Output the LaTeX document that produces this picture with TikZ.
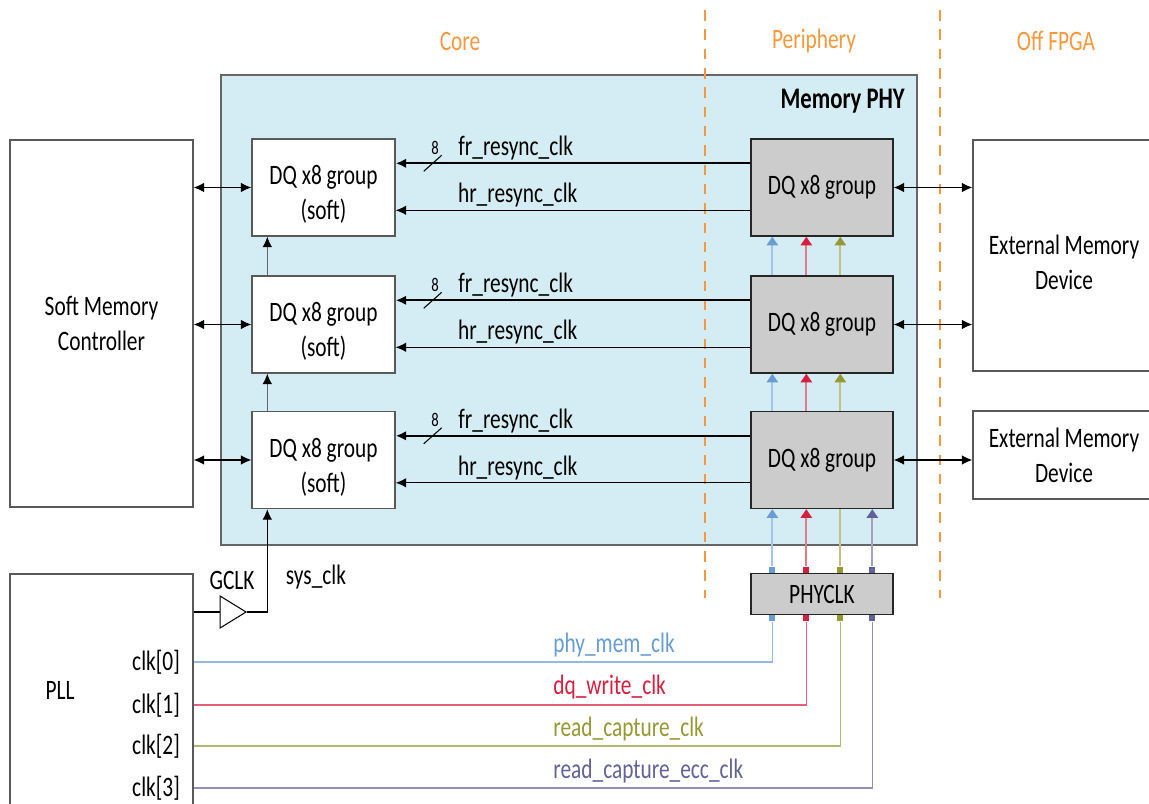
\documentclass[tikz,border=0pt]{standalone}
\usepackage{fontspec}
\setmainfont{Carlito}[FakeStretch=0.76]
\usetikzlibrary{shapes.geometric, arrows.meta, positioning, calc}

\definecolor{phyblue}{RGB}{212,236,243}
\definecolor{boxgray}{RGB}{204,204,204}
\definecolor{zoneorange}{RGB}{247,152,60}
\definecolor{clkblue}{RGB}{102,157,212}
\definecolor{clkred}{RGB}{214,30,62}
\definecolor{clkolive}{RGB}{150,152,52}
\definecolor{clkpurple}{RGB}{98,98,152}

\newcommand{\lbl}{\fontsize{16}{20}\selectfont}
\newcommand{\dnstrut}{\rule{0pt}{19pt}}

\begin{document}
\begin{tikzpicture}[
        x=0.02cm, y=-0.02cm,
        block/.style={rectangle, draw=black!65, line width=0.8pt, fill=white, align=center, font=\lbl},
        softdq/.style={block, minimum width=2.86cm, minimum height=1.94cm},
        harddq/.style={block, fill=boxgray, draw=black!85, minimum width=2.84cm, minimum height=1.94cm},
        arrow/.style={-{Latex[length=6pt,width=5.5pt,color=black]}, line width=0.6pt},
        bidir/.style={{Latex[length=6pt,width=5.5pt]}-{Latex[length=6pt,width=5.5pt]}, line width=0.6pt},
        zone/.style={zoneorange, dash pattern=on 6pt off 5pt, line width=1.1pt},
        clkpad/.style={rectangle, inner sep=0pt, minimum size=0.12cm, fill=#1},
        clktip/.style={-{Triangle[length=5pt,width=6.5pt,color=#1]}, draw=#1!60, line width=1pt},
        clkline/.style={draw=#1!70, line width=0.7pt}
    ]
    \useasboundingbox (0,0) rectangle (1149,804);

    % Memory PHY container
    \node[rectangle, draw=black!60, line width=0.8pt, fill=phyblue, minimum width=13.92cm, minimum height=9.4cm] (phy) at (569,310) {};
    \node[anchor=east, font=\fontsize{17}{20}\selectfont\bfseries] (phyname) at (911,101) {Memory PHY};

    % Zones
    \draw[zone] (705,10) -- (705,598);
    \draw[zone] (940,10) -- (940,598);
    \node[zoneorange, font=\lbl] (core) at (460,41) {Core};
    \node[zoneorange, font=\lbl] (periph) at (814,41) {Periphery};
    \node[zoneorange, font=\lbl] (offfpga) at (1056,41) {Off FPGA};

    % Controller and external devices
    \node[block, minimum width=3.66cm, minimum height=7.34cm] (ctrl) at (101.5,323.5) {Soft Memory\\Controller};
    \node[block, minimum width=3.64cm, minimum height=4.62cm] (ext1) at (1064,255.5) {\dnstrut External Memory\\Device};
    \node[block, minimum width=3.64cm, minimum height=1.76cm] (ext2) at (1064,455) {External Memory\\Device};

    % DQ groups
    \node[softdq] (soft1) at (323.5,187.5) {\dnstrut DQ x8 group\\(soft)};
    \node[softdq] (soft2) at (323.5,324.5) {\dnstrut DQ x8 group\\(soft)};
    \node[softdq] (soft3) at (323.5,460) {\dnstrut DQ x8 group\\(soft)};
    \node[harddq] (hard1) at (822,187.5) {DQ x8 group};
    \node[harddq] (hard2) at (822,324.5) {DQ x8 group};
    \node[harddq] (hard3) at (822,460) {DQ x8 group};
    \node[harddq, minimum height=0.82cm] (phyclk) at (822,594) {PHYCLK};

    % PLL
    \node[block, minimum width=3.66cm, minimum height=4.92cm] (pll) at (101.5,697) {};
    \node[font=\lbl] (pllname) at (60,690) {PLL};
    \node[anchor=east, font=\lbl] (clk0) at (186,662) {clk[0]};
    \node[anchor=east, font=\lbl] (clk1) at (186,705) {clk[1]};
    \node[anchor=east, font=\lbl] (clk2) at (186,746) {clk[2]};
    \node[anchor=east, font=\lbl] (clk3) at (186,788) {clk[3]};

    % GCLK buffer
    \node[draw, fill=white, isosceles triangle, isosceles triangle stretches, minimum width=0.64cm, minimum height=0.52cm, inner sep=0pt, line width=0.6pt] (buf) at (229,612) {};
    \node[font=\lbl] (gclk) at (232,580) {GCLK};
    \node[font=\lbl] (sysclk) at (316,577) {sys\_clk};

    % Bidirectional data
    \draw[bidir] (ctrl.east |- soft1.west) -- (soft1.west);
    \draw[bidir] (ctrl.east |- soft2.west) -- (soft2.west);
    \draw[bidir] (ctrl.east |- soft3.west) -- (soft3.west);
    \draw[bidir] (hard1.east) -- (ext1.west |- hard1.east);
    \draw[bidir] (hard2.east) -- (ext1.west |- hard2.east);
    \draw[bidir] (hard3.east) -- (ext2.west |- hard3.east);

    % Resync clocks
    \draw[arrow, line width=1.3pt] ($(hard1.north west)+(0,25)$) -- ($(soft1.north east)+(0,25)$);
    \draw[arrow] ($(hard1.north west)+(0,72)$) -- ($(soft1.north east)+(0,72)$);
    \draw[arrow, line width=1.3pt] ($(hard2.north west)+(0,25)$) -- ($(soft2.north east)+(0,25)$);
    \draw[arrow] ($(hard2.north west)+(0,72)$) -- ($(soft2.north east)+(0,72)$);
    \draw[arrow, line width=1.3pt] ($(hard3.north west)+(0,25)$) -- ($(soft3.north east)+(0,25)$);
    \draw[arrow] ($(hard3.north west)+(0,72)$) -- ($(soft3.north east)+(0,72)$);
    \node[font=\lbl] (fr1) at ($(soft1.north east)+(120,10)$) {fr\_resync\_clk};
    \node[font=\lbl] (hr1) at ($(soft1.north east)+(122,57)$) {hr\_resync\_clk};
    \node[font=\lbl] (fr2) at ($(soft2.north east)+(120,10)$) {fr\_resync\_clk};
    \node[font=\lbl] (hr2) at ($(soft2.north east)+(122,57)$) {hr\_resync\_clk};
    \node[font=\lbl] (fr3) at ($(soft3.north east)+(120,10)$) {fr\_resync\_clk};
    \node[font=\lbl] (hr3) at ($(soft3.north east)+(122,57)$) {hr\_resync\_clk};

    % Bus width marks
    \coordinate (bus1) at ($(soft1.north east)+(37,25)$);
    \coordinate (bus2) at ($(soft2.north east)+(37,25)$);
    \coordinate (bus3) at ($(soft3.north east)+(37,25)$);
    \draw[line width=0.6pt] ($(bus1)+(-9,8)$) -- ($(bus1)+(9,-8)$) node[above left=-3pt and -2pt, font=\fontsize{11}{12}\selectfont] {8};
    \draw[line width=0.6pt] ($(bus2)+(-9,8)$) -- ($(bus2)+(9,-8)$) node[above left=-3pt and -2pt, font=\fontsize{11}{12}\selectfont] {8};
    \draw[line width=0.6pt] ($(bus3)+(-9,8)$) -- ($(bus3)+(9,-8)$) node[above left=-3pt and -2pt, font=\fontsize{11}{12}\selectfont] {8};

    % Soft chain
    \draw[arrow, black!60] ($(soft3.north west)+(16,0)$) -- ($(soft2.south west)+(16,0)$);
    \draw[arrow, black!60] ($(soft2.north west)+(16,0)$) -- ($(soft1.south west)+(16,0)$);
    \draw[line width=0.6pt] (pll.east |- buf.west) -- (buf.west);
    \draw[arrow] (buf.east) -| ($(soft3.south west)+(16,0)$);

    % PHYCLK pads
    \node[clkpad=clkblue] (padb1) at ($(phyclk.north west)+(22,-3)$) {};
    \node[clkpad=clkred] (padr1) at ($(phyclk.north west)+(56,-3)$) {};
    \node[clkpad=clkolive] (pado1) at ($(phyclk.north west)+(90,-3)$) {};
    \node[clkpad=clkpurple] (padp1) at ($(phyclk.north west)+(122,-3)$) {};
    \node[clkpad=clkblue] (padb2) at ($(phyclk.south west)+(22,3)$) {};
    \node[clkpad=clkred] (padr2) at ($(phyclk.south west)+(56,3)$) {};
    \node[clkpad=clkolive] (pado2) at ($(phyclk.south west)+(90,3)$) {};
    \node[clkpad=clkpurple] (padp2) at ($(phyclk.south west)+(122,3)$) {};

    % PHY clock tree
    \draw[clktip=clkblue] (padb1.north) -- (hard3.south -| padb1);
    \draw[clktip=clkred] (padr1.north) -- (hard3.south -| padr1);
    \draw[draw=clkolive!60, line width=1pt] (pado1.north) -- (hard3.south -| pado1);
    \draw[clktip=clkpurple] (padp1.north) -- (hard3.south -| padp1);
    \draw[clktip=clkblue] (hard3.north -| padb1) -- (hard2.south -| padb1);
    \draw[clktip=clkred] (hard3.north -| padr1) -- (hard2.south -| padr1);
    \draw[clktip=clkolive] (hard3.north -| pado1) -- (hard2.south -| pado1);
    \draw[clktip=clkblue] (hard2.north -| padb1) -- (hard1.south -| padb1);
    \draw[clktip=clkred] (hard2.north -| padr1) -- (hard1.south -| padr1);
    \draw[clktip=clkolive] (hard2.north -| pado1) -- (hard1.south -| pado1);

    % PLL outputs
    \draw[clkline=clkblue] (clk0.east -| pll.east) -| (padb2.south);
    \draw[clkline=clkred] (clk1.east -| pll.east) -| (padr2.south);
    \draw[clkline=clkolive] (clk2.east -| pll.east) -| (pado2.south);
    \draw[clkline=clkpurple] (clk3.east -| pll.east) -| (padp2.south);
    \node[anchor=west, inner sep=0pt, clkblue, font=\lbl] (phymem) at (553,645) {phy\_mem\_clk};
    \node[anchor=west, inner sep=0pt, clkred, font=\lbl] (dqwrite) at (553,687) {dq\_write\_clk};
    \node[anchor=west, inner sep=0pt, clkolive, font=\lbl] (rdcap) at (553,729) {read\_capture\_clk};
    \node[anchor=west, inner sep=0pt, clkpurple, font=\lbl] (rdecc) at (553,771) {read\_capture\_ecc\_clk};

\end{tikzpicture}
\end{document}
